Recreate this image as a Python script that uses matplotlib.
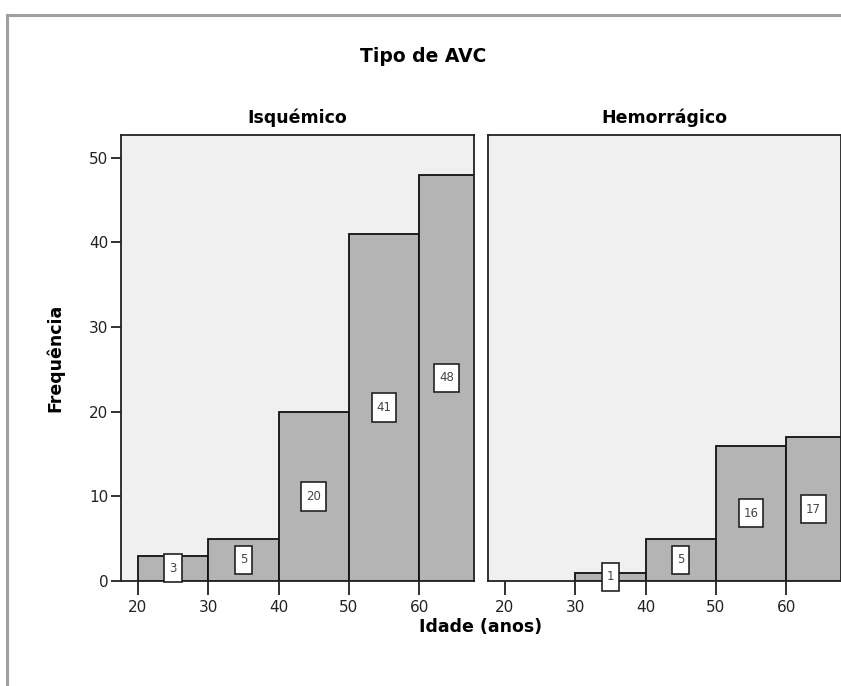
import matplotlib
matplotlib.use("Agg")
import matplotlib.pyplot as plt
from matplotlib.path import Path
import numpy as np

plt.rcParams['font.family'] = ['DejaVu Sans']

bin_edges = [20, 30, 40, 50, 60, 70]
panels = ["Isquémico", "Hemorrágico"]
counts_isq = [3, 5, 20, 41, 48]
counts_hem = [0, 1, 5, 16, 17]
x_ticks = [20, 30, 40, 50, 60]
y_ticks = [0, 10, 20, 30, 40, 50]
title = "Tipo de AVC"
xlabel = "Idade (anos)"
ylabel = "Frequência"

W, H = 841, 686
fig = plt.figure(figsize=(W / 100, H / 100), dpi=100)
fig.patch.set_facecolor("white")

# outer grey frame (top and left)
fig.add_artist(plt.Line2D([7 / W, 1.0], [1 - 15 / H, 1 - 15 / H], color="#a0a0a0", lw=2.2, transform=fig.transFigure))
fig.add_artist(plt.Line2D([7 / W, 7 / W], [0, 1 - 15 / H], color="#a0a0a0", lw=2.2, transform=fig.transFigure))


def tall_box(x0, y0, width, height, mutation_size):
    padx = 0.42 * mutation_size
    hh = 1.2 * mutation_size
    cy = y0 + height / 2
    xa, xb = x0 - padx, x0 + width + padx
    ya, yb = cy - hh, cy + hh
    verts = [(xa, ya), (xb, ya), (xb, yb), (xa, yb), (xa, ya)]
    codes = [Path.MOVETO, Path.LINETO, Path.LINETO, Path.LINETO, Path.CLOSEPOLY]
    return Path(verts, codes)


xlim = (17.6, 67.8)
ylim = (0, 52.7)
bottom = 1 - 581 / H
height = (581 - 135) / H
width = 353 / W
lefts = [121 / W, 488 / W]

for i, (name, counts) in enumerate(zip(panels, [counts_isq, counts_hem])):
    ax = fig.add_axes([lefts[i], bottom, width, height])
    ax.set_facecolor("#f0f0f0")
    ax.set_xlim(*xlim)
    ax.set_ylim(*ylim)
    lefts_b = bin_edges[:-1]
    widths = np.diff(bin_edges)
    for l, w, c in zip(lefts_b, widths, counts):
        if c <= 0:
            continue
        ax.bar(l, c, width=w, align="edge", color="#b4b4b4", edgecolor="#111111", linewidth=1.3, zorder=2)
        xr = min(l + w, xlim[1])
        xc = (l + xr) / 2
        ax.text(xc, c / 2, str(c), ha="center", va="center", fontsize=8.5, color="#444444", zorder=4,
                bbox=dict(boxstyle=tall_box, fc="white", ec="#222222", lw=1.2))
    for s in ax.spines.values():
        s.set_color("#222222")
        s.set_linewidth(1.3)
    ax.set_xticks(x_ticks)
    ax.tick_params(axis="x", direction="out", length=10, width=1.3, color="#222222", labelsize=11, pad=4, labelcolor="#222222")
    if i == 0:
        ax.set_yticks(y_ticks)
        ax.tick_params(axis="y", direction="out", length=7, width=1.3, color="#222222", labelsize=11, pad=2, labelcolor="#222222")
    else:
        ax.set_yticks([])
    ax.set_title(name, fontsize=12.5, fontweight="bold", pad=9)

fig.text(423 / W, 1 - 57 / H, title, ha="center", va="center", fontsize=13.5, fontweight="bold")
fig.text(481 / W, 1 - 627 / H, xlabel, ha="center", va="center", fontsize=12.5, fontweight="bold")
fig.text(55 / W, 1 - 358 / H, ylabel, ha="center", va="center", rotation=90, fontsize=12.5, fontweight="bold")

fig.savefig("out.png", dpi=100)
